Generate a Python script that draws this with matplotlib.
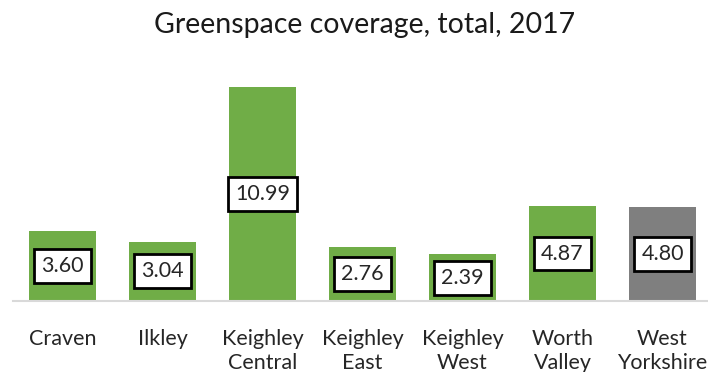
import matplotlib
matplotlib.use("Agg")
import matplotlib.pyplot as plt
import numpy as np

plt.rcParams['font.family'] = ['Lato', 'DejaVu Sans']

# data
areas = ['Craven', 'Ilkley', 'Keighley\nCentral', 'Keighley\nEast', 'Keighley\nWest',
         'Worth\nValley', 'West\nYorkshire']
coverage = [3.60, 3.04, 10.99, 2.76, 2.39, 4.87, 4.80]
bar_colors = ['#70AD47'] * 6 + ['#7F7F7F']

W, H = 708, 372
fig = plt.figure(figsize=(W / 100, H / 100), dpi=100)
fig.patch.set_facecolor('white')

# axes placed in pixels: baseline at y=301, 19.5 px per unit, 100 px per bar slot
base_px = 301
top_px = base_px - 12 * 19.5
ax = fig.add_axes([12.5 / W, (H - base_px) / H, 700 / W, (base_px - top_px) / H])
ax.set_xlim(-0.5, 6.5)
ax.set_ylim(0, 12)

x = np.arange(len(areas))
bars = ax.bar(x, coverage, width=0.67, color=bar_colors, zorder=2)

for xi, v in zip(x, coverage):
    ax.text(xi, v / 2, f'{v:.2f}', ha='center', va='center', fontsize=15.5,
            color='#262626', zorder=3,
            bbox=dict(boxstyle='square,pad=0.32', fc='white', ec='black', lw=2))

for s in ['top', 'right', 'left']:
    ax.spines[s].set_visible(False)
ax.spines['bottom'].set_color('#D9D9D9')
ax.spines['bottom'].set_linewidth(1.5)
ax.set_yticks([])
ax.set_xticks(x)
ax.set_xticklabels(areas, fontsize=15.5, color='#262626', linespacing=1.25)
ax.tick_params(axis='x', length=0, pad=20)

fig.text(365 / W, 1 - 25 / H, 'Greenspace coverage, total, 2017', ha='center', va='center',
         fontsize=20.5, color='#1a1a1a')

fig.savefig('out.png', dpi=100, facecolor='white')
